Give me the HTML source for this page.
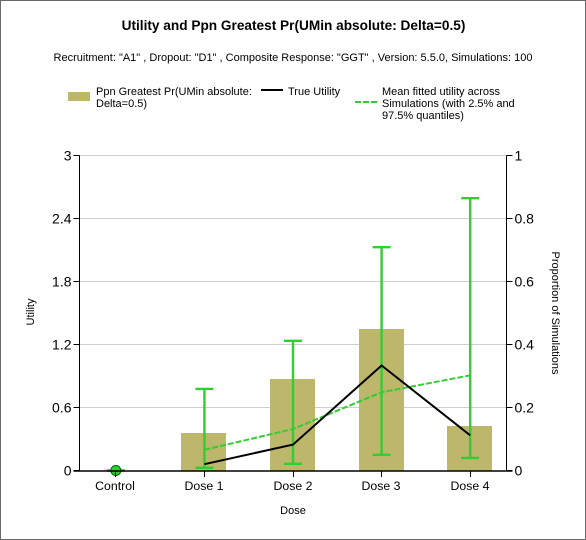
<!DOCTYPE html>
<html>
<head>
<meta charset="utf-8">
<style>
html,body{margin:0;padding:0;background:#fff;}
svg{display:block;font-family:"Liberation Sans",Arial,sans-serif;fill:#000;}
</style>
</head>
<body>
<svg id="chart" xmlns="http://www.w3.org/2000/svg" width="586" height="540" viewBox="0 0 586 540">
  <rect x="0.5" y="0.5" width="585" height="539" fill="#fff" stroke="#696969" stroke-width="1"/>
  <text x="293.5" y="30" text-anchor="middle" font-size="13.65" font-weight="bold">Utility and Ppn Greatest Pr(UMin absolute: Delta=0.5)</text>
  <text x="293" y="61" text-anchor="middle" font-size="11">Recruitment: "A1" , Dropout: "D1" , Composite Response: "GGT" , Version: 5.5.0, Simulations: 100</text>

  <g font-size="11">
    <rect x="68" y="92" width="22" height="9" fill="#bdb76b"/>
    <text><tspan x="96" y="95">Ppn Greatest Pr(UMin absolute:</tspan><tspan x="96" y="107">Delta=0.5)</tspan></text>
    <line x1="261" x2="283" y1="90" y2="90" stroke="#000" stroke-width="2"/>
    <text x="288" y="95">True Utility</text>
    <line x1="355" x2="377" y1="102" y2="102" stroke="#32cd32" stroke-width="2" stroke-dasharray="6 2"/>
    <text><tspan x="382" y="95">Mean fitted utility across</tspan><tspan x="382" y="107">Simulations (with 2.5% and</tspan><tspan x="382" y="119">97.5% quantiles)</tspan></text>
  </g>

  <g id="grid"></g>
  <g id="bars"></g>
  <g id="errors"></g>
  <g id="lines"></g>
  <g id="axes"></g>

  <text x="293" y="514" text-anchor="middle" font-size="11">Dose</text>
  <text transform="translate(34 312) rotate(-90)" text-anchor="middle" font-size="11">Utility</text>
  <text transform="translate(552 313) rotate(90)" text-anchor="middle" font-size="11">Proportion of Simulations</text>
</svg>
<script>
const categories = ["Control", "Dose 1", "Dose 2", "Dose 3", "Dose 4"];
const proportions = [0, 0.12, 0.29, 0.45, 0.14];
const trueUtility = [null, 0.06, 0.247, 1.0, 0.335];
const meanUtility = [null, 0.197, 0.395, 0.745, 0.906];
const upperQuantile = [0, 0.777, 1.235, 2.127, 2.593];
const lowerQuantile = [0, 0.026, 0.064, 0.149, 0.12];
const controlPoint = [0];
const leftTicks = [0, 0.6, 1.2, 1.8, 2.4, 3];
const rightTicks = [0, 0.2, 0.4, 0.6, 0.8, 1];

const NS = "http://www.w3.org/2000/svg";
const plotLeft = 79.5, plotRight = 506.5, plotTop = 155.5, plotBottom = 470.5, axisY = 471;
function xScale(i) { return plotLeft + (i + 0.41) / 4.82 * (plotRight - plotLeft); }
function yLeft(v) { return plotBottom - v / 3 * (plotBottom - plotTop); }
function yRight(v) { return plotBottom - v * (plotBottom - plotTop); }
function make(parent, tag, attrs, text) {
  const el = document.createElementNS(NS, tag);
  for (const k in attrs) el.setAttribute(k, attrs[k]);
  if (text !== undefined) el.textContent = text;
  parent.appendChild(el);
  return el;
}
const grid = document.getElementById("grid");
const bars = document.getElementById("bars");
const errors = document.getElementById("errors");
const lines = document.getElementById("lines");
const axes = document.getElementById("axes");

leftTicks.forEach(function (t) {
  if (t === 0) return;
  const g = make(grid, "line", { x1: plotLeft, x2: plotRight, y1: Math.round(yLeft(t) - 0.5) + 0.5, y2: Math.round(yLeft(t) - 0.5) + 0.5, stroke: "#cfcfcf", "stroke-width": 1 });
  
  
});

const barWidth = 45;
proportions.forEach(function (p, i) {
  const top = Math.round(yRight(p));
  const b = make(bars, "rect", { x: Math.floor(xScale(i) - barWidth / 2), y: top, width: barWidth, height: Math.max(0, axisY - top), fill: "#bdb76b" });
  
  
});

const capHalf = 9;
const errColor = "#32cd32";
upperQuantile.forEach(function (u, i) {
  const x = xScale(i), yu = yLeft(u), yl = yLeft(lowerQuantile[i]);
  const stem = make(errors, "line", { x1: x, x2: x, y1: yu, y2: yl, stroke: errColor, "stroke-width": 2.4 });
  
  
  const c1 = make(errors, "line", { x1: x - capHalf, x2: x + capHalf, y1: yu, y2: yu, stroke: errColor, "stroke-width": 2.4 });
  
  
  const c2 = make(errors, "line", { x1: x - capHalf, x2: x + capHalf, y1: yl, y2: yl, stroke: errColor, "stroke-width": 2.4 });
  
  
});

function pathFor(series) {
  let d = "";
  series.forEach(function (v, i) {
    if (v === null) return;
    d += (d ? " L" : "M") + xScale(i) + " " + yLeft(v);
  });
  return d;
}
const meanLine = make(lines, "path", { d: pathFor(meanUtility), fill: "none", stroke: errColor, "stroke-width": 2, "stroke-dasharray": "6 2" });


const trueLine = make(lines, "path", { d: pathFor(trueUtility), fill: "none", stroke: "#000", "stroke-width": 2 });



controlPoint.forEach(function (v, i) {
  const x = xScale(i), y = yLeft(v);
  const dot = make(lines, "circle", { cx: x, cy: y, r: 5, fill: errColor, stroke: "#006400", "stroke-width": 1 });
  
  
});

// axes
const axisBottom = make(axes, "line", { x1: plotLeft - 6, x2: plotRight + 6, y1: axisY, y2: axisY, stroke: "#000", "stroke-width": 1.5 });


const axisLeft = make(axes, "line", { x1: plotLeft, x2: plotLeft, y1: plotTop, y2: axisY, stroke: "#000", "stroke-width": 1 });


const axisRight = make(axes, "line", { x1: plotRight, x2: plotRight, y1: plotTop, y2: axisY, stroke: "#000", "stroke-width": 1 });



leftTicks.forEach(function (t) {
  const y = Math.round(yLeft(t) - 0.5) + 0.5;
  const m = make(axes, "line", { x1: plotLeft - 6, x2: plotLeft, y1: y, y2: y, stroke: "#000", "stroke-width": 1 });
  
  
  const l = make(axes, "text", { x: plotLeft - 8, y: y + 5, "text-anchor": "end", "font-size": 14 }, String(t));
  
  
});
rightTicks.forEach(function (t) {
  const y = Math.round(yRight(t) - 0.5) + 0.5;
  const m = make(axes, "line", { x1: plotRight, x2: plotRight + 6, y1: y, y2: y, stroke: "#000", "stroke-width": 1 });
  
  
  const l = make(axes, "text", { x: plotRight + 8, y: y + 5, "font-size": 14 }, String(t));
  
  
});
categories.forEach(function (c, i) {
  const x = Math.floor(xScale(i)) + 0.5;
  const m = make(axes, "line", { x1: x, x2: x, y1: axisY, y2: axisY + 6, stroke: "#000", "stroke-width": 1 });
  
  
  const l = make(axes, "text", { x: x - 0.5, y: 490, "text-anchor": "middle", "font-size": 12.3 }, c);
  
  
});
</script>
</body>
</html>
